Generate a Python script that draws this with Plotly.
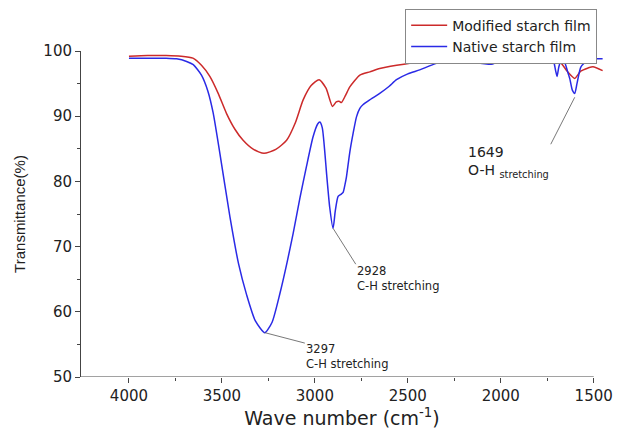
import plotly.graph_objects as go

# Modified starch film (red)
mod_wave = [4000, 3900, 3800, 3720, 3656, 3610, 3565, 3520, 3475, 3430, 3386, 3330, 3274,
            3210, 3152, 3105, 3063, 3020, 2977, 2940, 2905, 2885, 2870, 2857, 2835, 2812,
            2758, 2704, 2651, 2560, 2473, 2346, 2200, 2113, 2000, 1952, 1850, 1760, 1719,
            1683, 1640, 1602, 1570, 1530, 1504, 1452]
mod_trans = [99.2, 99.3, 99.3, 99.2, 98.9, 97.8, 96.1, 93.5, 90.4, 88.0, 86.3, 84.9, 84.3,
             84.9, 86.3, 89.0, 92.5, 94.7, 95.6, 94.3, 91.5, 92.2, 92.3, 92.1, 93.2, 94.5,
             96.3, 96.8, 97.3, 97.8, 98.2, 98.7, 98.8, 98.8, 99.2, 99.2, 99.0, 98.9, 98.8,
             98.4, 96.8, 95.8, 96.9, 97.4, 97.6, 97.0]

# Native starch film (blue)
nat_wave = [4000, 3900, 3800, 3744, 3690, 3654, 3610, 3575, 3547, 3511, 3457, 3410, 3367,
            3320, 3269, 3230, 3188, 3150, 3117, 3080, 3045, 3010, 2985, 2973, 2960, 2945,
            2937, 2920, 2902, 2890, 2875, 2860, 2848, 2838, 2830, 2812, 2794, 2776, 2758,
            2740, 2700, 2651, 2600, 2561, 2500, 2436, 2346, 2203, 2100, 2043, 2000, 1952,
            1850, 1760, 1719, 1705, 1697, 1688, 1675, 1660, 1640, 1629, 1615, 1602, 1590,
            1570, 1549, 1522, 1480, 1452]
nat_trans = [98.9, 98.9, 98.9, 98.8, 98.4, 97.9, 96.3, 93.8, 90.5, 84.3, 74.6, 67.3, 62.6,
             58.6, 56.8, 58.4, 62.8, 67.5, 72.0, 77.5, 82.3, 86.8, 88.8, 89.1, 88.2, 84.0,
             81.2, 76.0, 72.8, 75.5, 77.7, 78.0, 78.3, 79.5, 80.7, 84.5, 87.4, 89.9, 91.2,
             91.8, 92.6, 93.5, 94.6, 95.6, 96.5, 97.1, 98.1, 98.4, 98.1, 98.0, 98.8, 99.1,
             98.9, 98.8, 98.6, 97.0, 96.1, 97.5, 98.6, 98.5, 96.8, 95.8, 94.0, 93.5, 95.0,
             97.5, 98.2, 98.7, 98.8, 98.8]

x_ticks = [4000, 3500, 3000, 2500, 2000, 1500]
y_ticks = [50, 60, 70, 80, 90, 100]

FONT = "DejaVu Sans"
TXT = "#222222"

# annotations: (peak wave, peak value, text wave, text value, line-end wave, line-end value, label, size)
peak_labels = [
    (2902, 72.8, 2785, 67.6, 2780, 67.3, "2928<br>C-H stretching", 11.5),
    (3269, 56.8, 3059, 55.7, 3054, 55.2, "3297<br>C-H stretching", 11.5),
]

fig = go.Figure()
fig.add_trace(go.Scatter(x=mod_wave, y=mod_trans, mode="lines", name="Modified starch film",
                         line=dict(color="#cc2a2a", width=1.5, shape="spline", smoothing=0.6)))
fig.add_trace(go.Scatter(x=nat_wave, y=nat_trans, mode="lines", name="Native starch film",
                         line=dict(color="#2a2ae6", width=1.5, shape="spline", smoothing=0.6)))

X0, X1 = 4258, 1450

for px_, py_, tx, ty, lx, ly, txt, fs in peak_labels:
    fig.add_shape(type="line", xref="x", yref="y", x0=px_, y0=py_, x1=lx, y1=ly,
                  line=dict(color="#555555", width=0.8))
    fig.add_annotation(x=tx, y=ty, xref="x", yref="y", text=txt, showarrow=False,
                       xanchor="left", yanchor="top", align="left",
                       font=dict(size=fs, color=TXT, family=FONT))

# 1649 label
fig.add_shape(type="line", xref="x", yref="y", x0=1602, y0=92.9, x1=1731, y1=85.7,
              line=dict(color="#555555", width=0.8))
fig.add_annotation(x=2188, y=86.0, xref="x", yref="y",
                   text="1649<br>O-H <sub>stretching</sub>", showarrow=False,
                   xanchor="left", yanchor="top", align="left",
                   font=dict(size=14, color=TXT, family=FONT))

# x axis line ending at 1500
fig.add_shape(type="line", xref="x", yref="y", x0=X0, y0=50, x1=1500, y1=50,
              line=dict(color="#444444", width=1))

fig.update_layout(
    width=615, height=423,
    margin=dict(l=73, r=20, t=43, b=54, autoexpand=False),
    paper_bgcolor="white", plot_bgcolor="white",
    font=dict(family=FONT, color=TXT),
    showlegend=True,
    legend=dict(x=0.621, y=1.13, xanchor="left", yanchor="top",
                bgcolor="white", bordercolor="#888888", borderwidth=1,
                font=dict(size=14, color=TXT, family=FONT), tracegroupgap=0,
                itemwidth=36),
    xaxis=dict(range=[X0, X1], tickvals=x_ticks, ticks="outside", ticklen=5,
               tickcolor="#444444", showline=False, showgrid=False, zeroline=False,
               tickfont=dict(size=15, color=TXT, family=FONT),
               minor=dict(tickvals=[3750, 3250, 2750, 2250, 1750], ticks="outside",
                          ticklen=3, tickcolor="#444444"),
               title=dict(text="Wave number (cm<sup>-1</sup>)",
                          font=dict(size=19, color=TXT, family=FONT), standoff=7)),
    yaxis=dict(range=[50, 100], tickvals=y_ticks, ticks="outside", ticklen=5,
               tickcolor="#444444", showline=True, linecolor="#444444", linewidth=1,
               showgrid=False, zeroline=False,
               tickfont=dict(size=15, color=TXT, family=FONT),
               minor=dict(tickvals=[55, 65, 75, 85, 95], ticks="outside",
                          ticklen=3, tickcolor="#444444"),
               title=dict(text="Transmittance(%)",
                          font=dict(size=15, color=TXT, family="Liberation Sans, Arial"),
                          standoff=14)),
)

fig.write_html("out.html")
